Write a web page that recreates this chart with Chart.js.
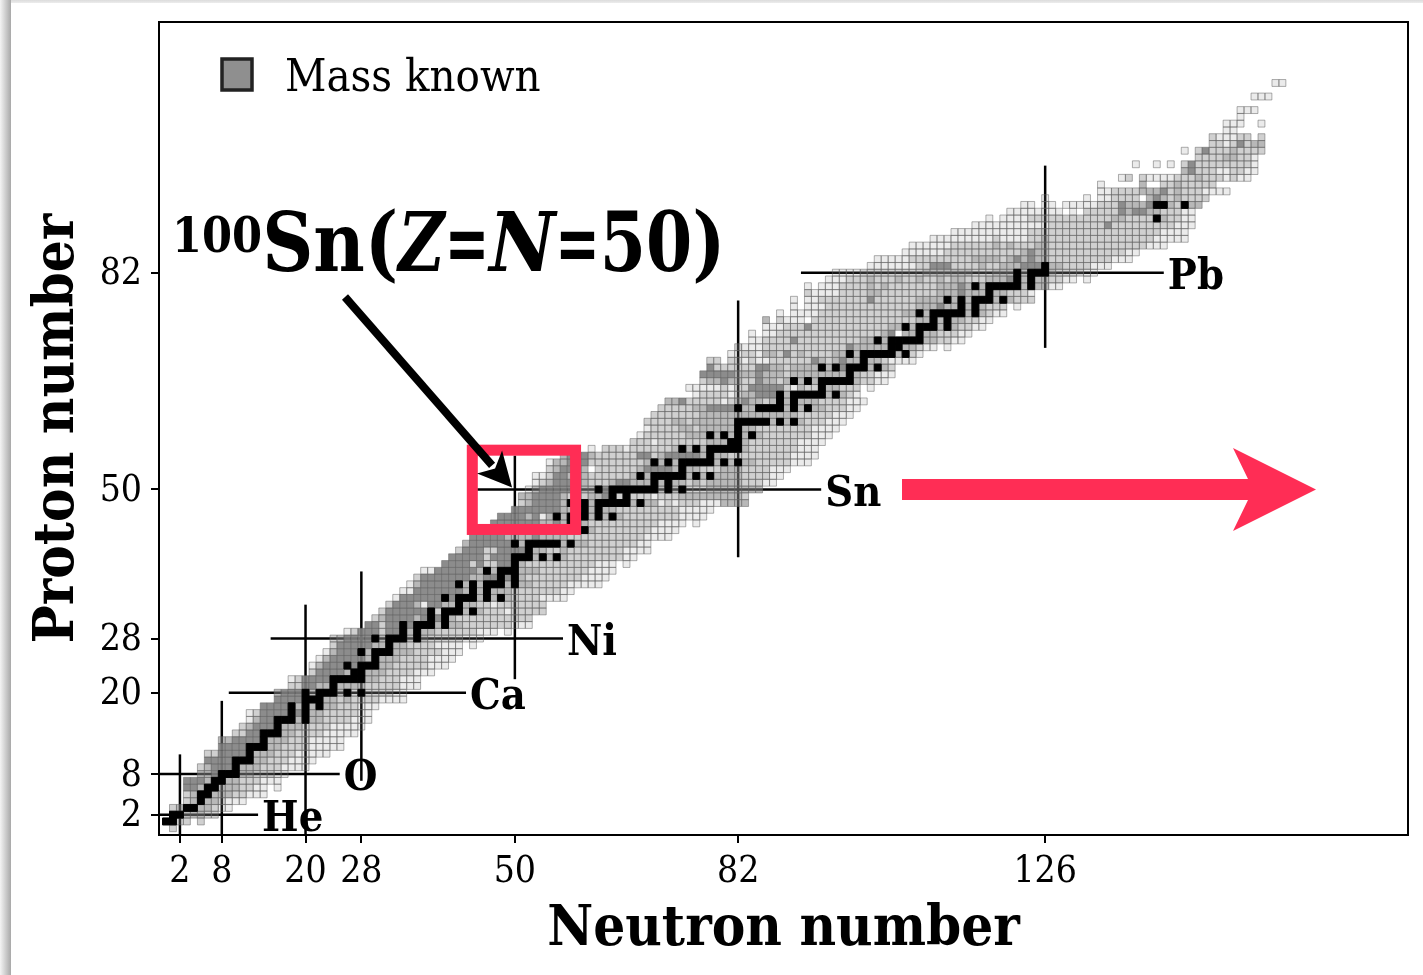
<!DOCTYPE html>
<html>
<head>
<meta charset="utf-8">
<title>Chart of nuclides</title>
<script src="https://cdn.jsdelivr.net/npm/chart.js@4"></script>
<style>
  html, body { margin: 0; padding: 0; }
  body {
    width: 1423px; height: 975px; overflow: hidden;
    background:
      linear-gradient(to bottom, #dcdcdc 0, #ececec 3px, rgba(255,255,255,0) 3px) 11px 0 no-repeat,
      linear-gradient(to right, #f4f4f4 0, #a8a8a8 11px, rgba(255,255,255,0) 11px) 0 0 no-repeat,
      #fff;
  }
  canvas { display: block; }
</style>
</head>
<body>
<canvas id="nuclides" width="1423" height="975"></canvas>
<script>
const neutronTicks = [2, 8, 20, 28, 50, 82, 126];
const protonTicks = [2, 8, 20, 28, 50, 82];

// magic number guide lines
const shellZ = [2, 8, 20, 28, 50, 82];
const shellNames = ['He', 'O', 'Ca', 'Ni', 'Sn', 'Pb'];
const shellFromN = [-1, -1, 9, 15, 44.6, 91];
const shellToN = [13.2, 24.9, 43, 56.9, 93.9, 143];
const shellN = [2, 8, 20, 28, 50, 82, 126];
const shellFromZ = [-1, -1, -1, 7, 22, 40, 70.9];
const shellToZ = [10.9, 18.8, 33, 37.9, 55, 77.9, 97.8];

// first N of each row, index is Z
const zStart = [1,0,1,1,3,3,3,3,5,5,6,6,8,8,10,11,12,12,14,16,16,18,18,21,21,22,23,24,24,26,29,30,31,32,33,34,35,36,37,40,41,42,43,44,45,47,48,50,51,51,52,53,53,55,55,57,61,67,68,69,69,70,71,72,76,75,77,77,78,78,81,82,84,84,86,86,88,90,90,92,92,95,96,101,102,106,107,110,113,116,118,121,123,126,134,134,137,146,139,148,146,150,150,152,152,154,154,0,156,0,159];

// grey level per cell along each row, 0 = no cell. Spaces are only for reading.
const shadeRows = [
  "2", "442202", "4433322", "234433211", "234332111", "234433322111",
  "44344333221101", "44434433222111", "3344443322211", "2344443332221111",
  "4444444332221111", "224444433322211111", "444444433222211111", "334444433322211111",
  "224444433222211111", "234444333222211111", "134444434332222111", "124444444332222211",
  "44444343433222111", "4444444332322221111", "3444434443424222211", "2244334333322222111",
  "1244444444433222111", "244443443332222111", "13444444443322222111", "13444443433322221111",
  "13444434443332222111", "244444334332222111101", "2344444344434322222111",
  "124442444343322222211101", "442444444434332222222111", "23444434444322222222222",
  "244444442444343222122222", "24443144334332212222222", "1444444444443434322221111",
  "1144444443434333222222211", "1344444434344434332222211111", "2444444433444443222222221111",
  "1144444434344433322222221111", "444424224443222222222211101", "444442444444343432222222211",
  "2444224444433223222222221111", "344444443444443433222222211", "44444333343333222222222221111",
  "44444444344444343222222221111", "444444433434332222222222111101", "444434134344434343222222221111",
  "44444443334343322222222211111", "234444343434444434331212221113333",
  "3344443232334 424 22212 223333333332",
  "1344444333 44 4444444 3 4 3 4 222 33333333",
  "12344423 222 3 44 333 4 3 4 33 2 3 2 33333 222 11",
  "112443332222223 4 3 44444 3 4 3 4 3333 2222 11",
  "2344430 222222 3 4444 3 4 33 222 333 2222 111",
  "133444222222223 4343 44444 3434 3322222111",
  "34443 222222 44 2 3 44444 3 4 33 222222222 1111",
  "10 22212222223 4 3 4 3 44444 3 2222222 111",
  "22212222222333 44 3 2222222 1111",
  "1222222333 43434343 2222222 111",
  "12222332333334 33 22222222 1111",
  "2222332333333 44444 3 4 3 4 3 222 111",
  "2222222 33333333333333 22222 111",
  "22222334444 4 33 4444 3 4 3 4 33 222 11",
  "334 2222212343323 4 3 4 333 2222 111",
  "122221233444 4 3 44444 3 4 321",
  "1111121224444421322 4 33222 01",
  "2334332243323 4 3 4 3 44444 3 2211",
  "444443334333233333333 4 322111",
  "4222222443323333 4 3 4 4 444 3 4 3 2",
  "220221211222222 4323433 4 3321111",
  "11221332423222233 4 3 44444 3 4 21",
  "2111222222222222 4 33333 44 3321101",
  "112222 4 22222222233 4 3 44444 332211",
  "10 1122222222222222234 0 33 4 3322211",
  "1112224 2222222222233 4 3 444 3 4 32211",
  "30 21110 22222222222222233 4 3 4 332211",
  "10 1111 22222222222233 4 3 44444 3 4 3211",
  "10 111 2222222222222 333433 4 3 4 322201",
  "10 11 2222222 4 222222 3333 4 3 4 3 444 3 4 3222",
  "21111222233222222223334333 4 332221",
  "10 1112222323222222233343 4 3 44444 3 4 3311",
  "111222322232232232332223334 4 3 4 3 3 2 2 1 1 0 1",
  "11112222222223333333222333 4 3 444 3222211",
  "1111111 22 444 2222 3 22 333 444 4 332222111",
  "11111222222222 3333 2 343433 222222222111",
  "111111222222222223 4 33 2222222222211",
  "111111 222222 3 2 3 222 33 22222222222222 111",
  "11111111121111223 222222222222222 11111",
  "11111111111222 2222222222222222 1111",
  "11111111111 22222222 4 222222222 111",
  "10 1111 222222222222 33 2222 4 322 11",
  "11111111 010 22222 4 3 44 33 222 11",
  "1101101111122243334 4 4 3 2 4 3 3",
  "100000 1 0 1122220343232222",
  "1122223334232221111",
  "1 00000 3 00 22322222",
  "12 0 2111122232221211",
  "34222112211",
  "1 00 1 0 1 0 24222222221",
  "222233221",
  "1 0 2422232222",
  "22124233",
  "21112202",
  "11",
  "111001",
  "1",
  "111",
  "",
  "111",
  "",
  "11"
];

// stable nuclides: the N values in black, index is Z
const stableN = [
  [],[0,1],[1,2],[3,4],[5],[5,6],[6,7],[7,8],[8,9,10],[10],[10,11,12],[12],[12,13,14],[14],[14,15,16],[16],
  [16,17,18,20],[18,20],[18,20,22],[20,21,22],[20,22,23,24,26,28],[24],[24,25,26,27,28],[27,28],[26,28,29,30],[30],
  [28,30,31,32],[32],[30,32,33,34,36],[34,36],[34,36,37,38,40],[38,40],[38,40,41,42,44],[42],[40,42,43,44,46,48],[44,46],
  [42,44,46,47,48,50],[48,50],[46,48,49,50],[50],[50,51,52,54,56],[52],[50,52,53,54,55,56,58],[],[52,54,55,56,57,58,60],[58],
  [56,58,59,60,62,64],[60,62],[58,60,62,63,64,65,66,68],[64,66],[62,64,65,66,67,68,69,70,72,74],[70,72],[68,70,71,72,73,74,76,78],[74],
  [70,72,74,75,76,77,78,80,82],[78],[74,76,78,79,80,81,82],[81,82],[78,80,82,84],[82],[82,83,84,85,86,88,90],[],
  [82,85,86,87,88,90,92],[88,90],[88,90,91,92,93,94,96],[94],[90,92,94,95,96,97,98],[98],[94,96,98,99,100,102],[100],
  [98,100,101,102,103,104,106],[104,105],[102,104,105,106,107,108],[108],[106,108,109,110,112],[110,112],
  [108,110,111,112,113,114,116],[114,116],[112,114,116,117,118,120],[118],[116,118,119,120,121,122,124],[122,124],
  [122,124,125,126],[126],[],[],[],[],[],[],[142],[],[142,143,146]
];

const levelColors = ['', 'rgba(128,128,128,0.16)', 'rgba(128,128,128,0.37)', 'rgba(128,128,128,0.56)', 'rgba(128,128,128,0.9)'];
const SERIF = '"DejaVu Serif Condensed", "DejaVu Serif", serif';
const RED = '#ff2d55';

// flatten the rows into one point list per grey level
const levelPoints = [[], [], [], [], []];
shadeRows.forEach((row, z) => {
  row.replace(/ /g, '').split('').forEach((d, i) => {
    const level = Number(d);
    if (level > 0) levelPoints[level].push({ x: zStart[z] + i, y: z });
  });
});
const stablePoints = [];
stableN.forEach((list, z) => list.forEach(n => stablePoints.push({ x: n, y: z })));

const datasets = [];
const cellRadius = 4.87; // rect point side = radius * sqrt(2)

datasets.push({
  data: stablePoints, order: 1, pointStyle: 'rect', pointRadius: cellRadius,
  backgroundColor: '#000', borderColor: '#000', borderWidth: 1
});
for (let level = 4; level >= 1; level--) {
  datasets.push({
    data: levelPoints[level], order: 2 + level, pointStyle: 'rect', pointRadius: cellRadius,
    backgroundColor: levelColors[level], borderColor: 'rgba(95,95,95,0.5)', borderWidth: 1
  });
}
shellZ.forEach((z, i) => {
  datasets.push({
    data: [{ x: shellFromN[i], y: z }, { x: shellToN[i], y: z }],
    order: 10, showLine: true, pointRadius: 0, borderColor: '#000', borderWidth: 2.5
  });
});
shellN.forEach((n, i) => {
  datasets.push({
    data: [{ x: n, y: shellFromZ[i] }, { x: n, y: shellToZ[i] }],
    order: 10, showLine: true, pointRadius: 0, borderColor: '#000', borderWidth: 2.5
  });
});

function drawRuns(ctx, x, runs) {
  runs.forEach(r => {
    const sx = r.sx || 1;
    ctx.font = r.font;
    ctx.save();
    ctx.translate(x, r.y);
    ctx.scale(sx, 1);
    ctx.fillText(r.text, 0, 0);
    ctx.restore();
    x += ctx.measureText(r.text).width * sx;
  });
}

const annotate = {
  id: 'annotate',
  afterDatasetsDraw(chart) {
    const ctx = chart.ctx;
    const { left, right, top, bottom } = chart.chartArea;
    const xs = chart.scales.x, ys = chart.scales.y;
    ctx.save();

    // frame
    ctx.strokeStyle = '#000';
    ctx.lineWidth = 2;
    ctx.strokeRect(left, top, right - left, bottom - top);

    // legend
    ctx.fillStyle = '#8f8f8f';
    ctx.strokeStyle = '#222';
    ctx.lineWidth = 3.5;
    ctx.fillRect(222, 59, 30, 31);
    ctx.strokeRect(222, 59, 30, 31);
    ctx.fillStyle = '#000';
    ctx.textBaseline = 'alphabetic';
    ctx.font = '45px ' + SERIF;
    ctx.fillText('Mass known', 285, 91);

    // shell names at the end of their lines
    ctx.font = 'bold 43px ' + SERIF;
    ctx.textBaseline = 'middle';
    shellNames.forEach((name, i) => {
      ctx.fillText(name, xs.getPixelForValue(shellToN[i]) + 4, ys.getPixelForValue(shellZ[i]) + 5);
    });

    // red box around Z=N=50
    const bx0 = xs.getPixelForValue(43.9), bx1 = xs.getPixelForValue(58.7);
    const by0 = ys.getPixelForValue(55.8), by1 = ys.getPixelForValue(44.1);
    ctx.strokeStyle = RED;
    ctx.lineWidth = 11;
    ctx.strokeRect(bx0, by0, bx1 - bx0, by1 - by0);

    // black arrow to 100Sn
    const tipX = xs.getPixelForValue(49.6), tipY = ys.getPixelForValue(50.3);
    ctx.strokeStyle = '#000';
    ctx.lineWidth = 8;
    ctx.beginPath();
    ctx.moveTo(345, 297);
    ctx.lineTo(tipX - 20, tipY - 22);
    ctx.stroke();
    ctx.fillStyle = '#000';
    ctx.beginPath();
    ctx.moveTo(tipX, tipY);
    ctx.lineTo(tipX - 10, tipY - 37);
    ctx.lineTo(tipX - 17, tipY - 19);
    ctx.lineTo(tipX - 35, tipY - 14);
    ctx.closePath();
    ctx.fill();

    // red arrow along Z=50
    const ay = ys.getPixelForValue(50);
    ctx.fillStyle = RED;
    ctx.beginPath();
    ctx.moveTo(902, ay - 10.5);
    ctx.lineTo(1248, ay - 10.5);
    ctx.lineTo(1233, ay - 41.5);
    ctx.lineTo(1316, ay);
    ctx.lineTo(1233, ay + 41.5);
    ctx.lineTo(1248, ay + 10.5);
    ctx.lineTo(902, ay + 10.5);
    ctx.closePath();
    ctx.fill();

    // 100Sn(Z=N=50)
    ctx.fillStyle = '#000';
    ctx.textBaseline = 'alphabetic';
    const big = 'bold 82px ' + SERIF, bigIt = 'italic bold 82px ' + SERIF;
    drawRuns(ctx, 172, [
      { text: '100', font: 'bold 48px ' + SERIF, y: 252 },
      { text: 'Sn(', font: big, y: 271, sx: 0.96 },
      { text: 'Z', font: bigIt, y: 271, sx: 0.86 },
      { text: '=', font: big, y: 271, sx: 0.72 },
      { text: 'N', font: bigIt, y: 271, sx: 0.98 },
      { text: '=', font: big, y: 271, sx: 0.72 },
      { text: '50', font: big, y: 271, sx: 0.9 },
      { text: ')', font: big, y: 271, sx: 0.95 }
    ]);
    ctx.restore();
  }
};

new Chart(document.getElementById('nuclides'), {
  type: 'scatter',
  data: { datasets },
  options: {
    responsive: false,
    animation: false,
    events: [],
    layout: { padding: { top: 22, right: 15, left: 0, bottom: 0 } },
    plugins: { legend: { display: false }, tooltip: { enabled: false } },
    scales: {
      x: {
        type: 'linear', min: -1, max: 178,
        afterBuildTicks: s => { s.ticks = neutronTicks.map(v => ({ value: v })); },
        afterFit: s => { s.height = 140; s.paddingLeft = 0; s.paddingRight = 0; },
        grid: { drawOnChartArea: false, color: '#000', lineWidth: 2, tickLength: 8 },
        border: { color: '#000', width: 2 },
        ticks: { autoSkip: false, maxRotation: 0, color: '#000', padding: 7, font: { family: SERIF, size: 37 } },
        title: { display: true, text: 'Neutron number', color: '#000', padding: { top: 0, bottom: 11 }, font: { family: SERIF, size: 56, weight: 'bold' } }
      },
      y: {
        type: 'linear', min: -1, max: 119,
        afterBuildTicks: s => { s.ticks = protonTicks.map(v => ({ value: v })); },
        afterFit: s => { s.width = 159; s.paddingTop = 0; s.paddingBottom = 0; },
        grid: { drawOnChartArea: false, color: '#000', lineWidth: 2, tickLength: 8 },
        border: { color: '#000', width: 2 },
        ticks: { autoSkip: false, color: '#000', padding: 9, labelOffset: 2, font: { family: SERIF, size: 37 } },
        title: { display: true, text: 'Proton number', color: '#000', padding: { top: 25, bottom: 0 }, font: { family: SERIF, size: 56, weight: 'bold' } }
      }
    }
  },
  plugins: [annotate]
});
</script>
</body>
</html>
